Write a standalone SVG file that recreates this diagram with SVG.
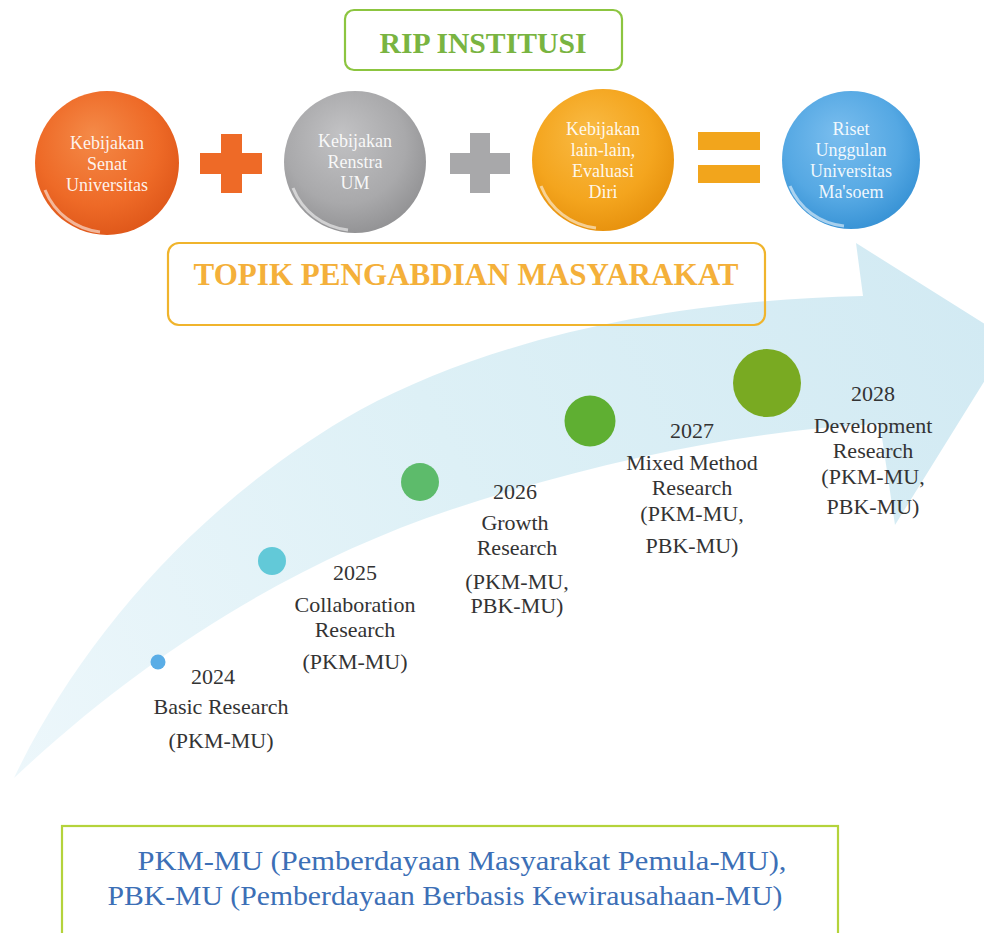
<svg xmlns="http://www.w3.org/2000/svg" width="984" height="933" viewBox="0 0 984 933">
<defs>
  <radialGradient id="gOrange" cx="45%" cy="40%" r="60%" fx="40%" fy="30%">
    <stop offset="0" stop-color="#f48a48"/>
    <stop offset="0.7" stop-color="#ee6a27"/>
    <stop offset="1" stop-color="#e0591b"/>
  </radialGradient>
  <radialGradient id="gGray" cx="45%" cy="40%" r="60%" fx="40%" fy="30%">
    <stop offset="0" stop-color="#c2c2c4"/>
    <stop offset="0.7" stop-color="#a9a9ab"/>
    <stop offset="1" stop-color="#949496"/>
  </radialGradient>
  <radialGradient id="gYellow" cx="45%" cy="40%" r="60%" fx="40%" fy="30%">
    <stop offset="0" stop-color="#f9bb45"/>
    <stop offset="0.7" stop-color="#f4a51e"/>
    <stop offset="1" stop-color="#e8930f"/>
  </radialGradient>
  <radialGradient id="gBlue" cx="45%" cy="40%" r="60%" fx="40%" fy="30%">
    <stop offset="0" stop-color="#79bdee"/>
    <stop offset="0.7" stop-color="#55a8e3"/>
    <stop offset="1" stop-color="#3a94d6"/>
  </radialGradient>
  <linearGradient id="gBand" x1="0" y1="780" x2="984" y2="300" gradientUnits="userSpaceOnUse">
    <stop offset="0" stop-color="#edf7fb"/>
    <stop offset="0.5" stop-color="#ddf0f6"/>
    <stop offset="1" stop-color="#d2eaf3"/>
  </linearGradient>
</defs>
<style>
  .ctext { font-family: "Liberation Serif", "DejaVu Serif", serif; font-size: 18px; fill: #ffffff; fill-opacity: 0.92; text-anchor: middle; }
  .lbl { font-family: "Liberation Serif", "DejaVu Serif", serif; font-size: 22px; fill: #333333; text-anchor: middle; }
  .title { font-family: "Liberation Serif", "DejaVu Serif", serif; font-weight: bold; text-anchor: middle; }
  .legend { font-family: "Liberation Serif", "DejaVu Serif", serif; font-size: 28px; fill: #3c6fb6; text-anchor: middle; }
  .rim { fill: none; stroke: #ffffff; stroke-opacity: 0.55; stroke-width: 3; }
</style>
<rect width="984" height="933" fill="#ffffff"/>

<g id="connectors">
  <path id="arrow-band" fill="url(#gBand)" d="M14,778 C80,640 200,500 360,410 C500,335 680,300 863,296 L856,243 L1010,340 L895,525 L880,424 C750,430 600,460 450,510 C300,560 150,650 14,778 Z"/>
</g>

<g id="rip-box">
  <rect x="345" y="10" width="277" height="60" rx="9" fill="#ffffff" stroke="#8cc540" stroke-width="2.2"/>
  <text class="title" x="483" y="53" font-size="29" fill="#79b441" textLength="207" lengthAdjust="spacingAndGlyphs">RIP INSTITUSI</text>
</g>

<g id="circle-senat">
  <circle cx="107" cy="163" r="72" fill="url(#gOrange)"/>
  <path class="rim" d="M45,190 A68,68 0 0 0 100,232"/>
  <text class="ctext" x="107" y="149">Kebijakan</text>
  <text class="ctext" x="107" y="170">Senat</text>
  <text class="ctext" x="107" y="191">Universitas</text>
</g>

<g id="plus-1">
  <rect x="200" y="153" width="62" height="21" fill="#ee6a27"/>
  <rect x="221" y="134" width="21" height="59" fill="#ee6a27"/>
</g>

<g id="circle-renstra">
  <circle cx="355" cy="162" r="71" fill="url(#gGray)"/>
  <path class="rim" d="M293,188 A67,67 0 0 0 348,230"/>
  <text class="ctext" x="355" y="147">Kebijakan</text>
  <text class="ctext" x="355" y="168">Renstra</text>
  <text class="ctext" x="355" y="189">UM</text>
</g>

<g id="plus-2">
  <rect x="450" y="153" width="60" height="21" fill="#a8a8aa"/>
  <rect x="470" y="133" width="20" height="60" fill="#a8a8aa"/>
</g>

<g id="circle-lain">
  <circle cx="603" cy="160" r="71" fill="url(#gYellow)"/>
  <path class="rim" d="M541,186 A67,67 0 0 0 596,228"/>
  <text class="ctext" x="603" y="135">Kebijakan</text>
  <text class="ctext" x="603" y="156">lain-lain,</text>
  <text class="ctext" x="603" y="177">Evaluasi</text>
  <text class="ctext" x="603" y="198">Diri</text>
</g>

<g id="equals">
  <rect x="698" y="132" width="62" height="18" fill="#f2a51c"/>
  <rect x="698" y="165" width="62" height="18" fill="#f2a51c"/>
</g>

<g id="circle-riset">
  <circle cx="851" cy="160" r="69" fill="url(#gBlue)"/>
  <path class="rim" d="M790,186 A65,65 0 0 0 844,226"/>
  <text class="ctext" x="851" y="135">Riset</text>
  <text class="ctext" x="851" y="156">Unggulan</text>
  <text class="ctext" x="851" y="177">Universitas</text>
  <text class="ctext" x="851" y="198">Ma'soem</text>
</g>

<g id="topik-box">
  <rect x="168" y="243" width="597" height="82" rx="11" fill="none" stroke="#f0b42c" stroke-width="2.2"/>
  <text class="title" x="466" y="285" font-size="31" fill="#f4b03a" textLength="545" lengthAdjust="spacingAndGlyphs">TOPIK PENGABDIAN MASYARAKAT</text>
</g>

<g id="node-2024">
  <circle cx="158" cy="662" r="7.5" fill="#5aade6"/>
  <text class="lbl" x="213" y="684">2024</text>
  <text class="lbl" x="221" y="714">Basic Research</text>
  <text class="lbl" x="221" y="748">(PKM-MU)</text>
</g>

<g id="node-2025">
  <circle cx="272" cy="561" r="14" fill="#62c9d8"/>
  <text class="lbl" x="355" y="580">2025</text>
  <text class="lbl" x="355" y="612">Collaboration</text>
  <text class="lbl" x="355" y="637">Research</text>
  <text class="lbl" x="355" y="669">(PKM-MU)</text>
</g>

<g id="node-2026">
  <circle cx="420" cy="482" r="19" fill="#5dbb6b"/>
  <text class="lbl" x="515" y="499">2026</text>
  <text class="lbl" x="515" y="530">Growth</text>
  <text class="lbl" x="517" y="555">Research</text>
  <text class="lbl" x="517" y="589">(PKM-MU,</text>
  <text class="lbl" x="517" y="613">PBK-MU)</text>
</g>

<g id="node-2027">
  <circle cx="590" cy="421" r="25.5" fill="#5faf32"/>
  <text class="lbl" x="692" y="438">2027</text>
  <text class="lbl" x="692" y="470">Mixed Method</text>
  <text class="lbl" x="692" y="495">Research</text>
  <text class="lbl" x="692" y="521">(PKM-MU,</text>
  <text class="lbl" x="692" y="553">PBK-MU)</text>
</g>

<g id="node-2028">
  <circle cx="767" cy="383" r="34" fill="#79aa22"/>
  <text class="lbl" x="873" y="401">2028</text>
  <text class="lbl" x="873" y="433">Development</text>
  <text class="lbl" x="873" y="458">Research</text>
  <text class="lbl" x="873" y="484">(PKM-MU,</text>
  <text class="lbl" x="873" y="514">PBK-MU)</text>
</g>

<g id="legend-box">
  <rect x="62" y="826" width="776" height="130" fill="#ffffff" stroke="#b4d33b" stroke-width="2.2"/>
  <text class="legend" x="462" y="870" textLength="649" lengthAdjust="spacingAndGlyphs">PKM-MU (Pemberdayaan Masyarakat Pemula-MU),</text>
  <text class="legend" x="445" y="905" textLength="675" lengthAdjust="spacingAndGlyphs">PBK-MU (Pemberdayaan Berbasis Kewirausahaan-MU)</text>
</g>
</svg>
